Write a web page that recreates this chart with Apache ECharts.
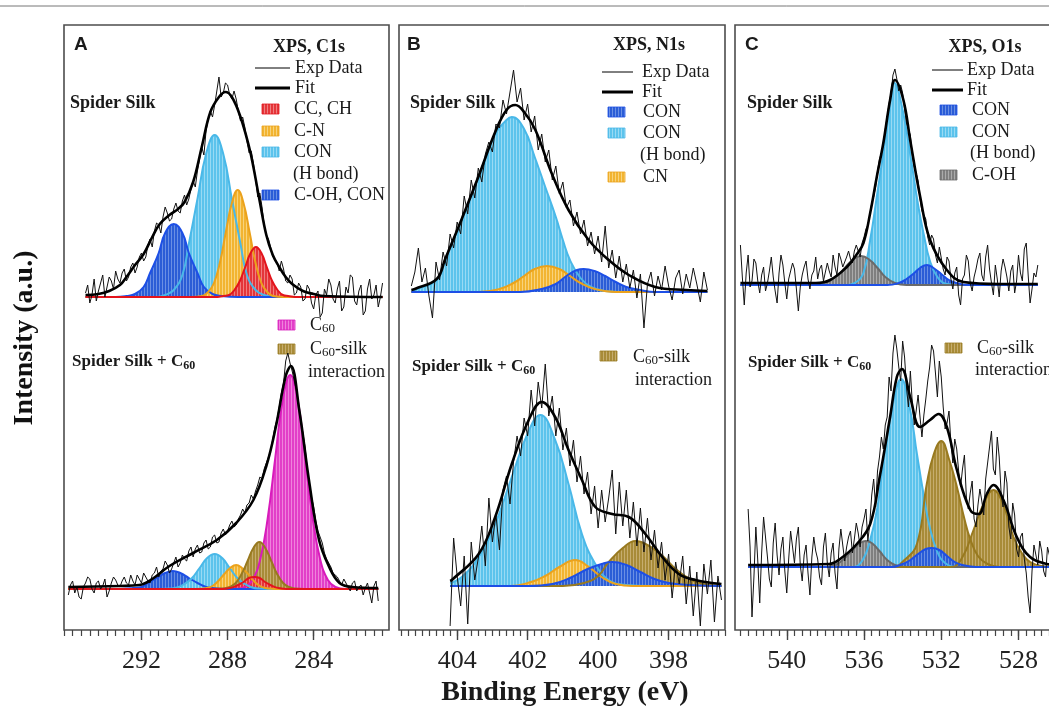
<!DOCTYPE html>
<html>
<head>
<meta charset="utf-8">
<script src="https://cdn.jsdelivr.net/npm/echarts@6.0.0/dist/echarts.min.js"></script>
<style>
  html, body { margin: 0; padding: 0; background: #fff; }
  #chart { width: 1049px; height: 706px; }
</style>
</head>
<body>
<div id="chart"></div>
<script>
// ---------- tick labels ----------
const c1sMajorTicks = [292, 288, 284]
const n1sMajorTicks = [404, 402, 400, 398]
const o1sMajorTicks = [540, 536, 532, 528]

// ---------- A: C1s, spider silk ----------
// exp data: evenly spaced readings from start to end energy
const c1sSilkExpRange = [294.6, 280.8]
const c1sSilkExp = [
  4, 12, -6, 2, 18, -4, 6, 14, 22, 0, 10, 20, 16, 8, 26, 18, 14, 24, 28, 16,
  20, 30, 34, 24, 30, 40, 44, 36, 40, 52, 58, 50, 66, 74, 72, 64, 80, 90, 84, 76,
  78, 88, 94, 86, 84, 96, 102, 92, 98, 108, 116, 110, 126, 138, 150, 142, 166, 178, 186, 180,
  192, 206, 220, 200, 204, 214, 212, 202, 198, 206, 198, 186, 176, 180, 170, 156, 144, 146, 134, 118,
  100, 104, 90, 72, 62, 58, 50, 40, 38, 34, 26, 36, 28, 16, 14, 22, 18, 2, 4, 14,
  10, -4, -2, 12, 8, -6, -12, 2, 6, -20, -16, 8, 2, 18, 12, -2, -6, 8, 16, -14,
  -10, 10, 4, 22, 20, -4, -8, 6, 12, -18, -14, 8, 18, -2, 2, 12, -10, 0, 14,
]
const c1sSilkFit = [[294.6, 2], [294, 3], [293.5, 6], [293, 12], [292.7, 20], [292.3, 32], [291.9, 43], [291.5, 60], [291.15, 73], [290.7, 82], [290.3, 88], [290, 95], [289.6, 115], [289.2, 150], [288.8, 185], [288.4, 200], [288.1, 205], [287.8, 200], [287.4, 180], [287, 150], [286.8, 130], [286.5, 95], [286.2, 62], [285.9, 42], [285.6, 30], [285.3, 20], [285, 13], [284.5, 6], [284, 3], [283.5, 1], [280.8, 0]]
const c1sSilkCON_H = [[294.6, 0], [291.3, 0], [290.9, 2], [290.5, 7], [290.1, 22], [289.8, 53], [289.4, 98], [289, 143], [288.6, 162], [288.2, 143], [287.8, 98], [287.4, 53], [287.1, 22], [286.7, 7], [286.3, 2], [285.8, 0], [280.8, 0]]
const c1sSilkCOH = [[294.6, 0], [293.2, 0], [292.7, 1], [292.3, 3], [291.9, 10], [291.6, 24], [291.2, 44], [290.9, 64], [290.5, 73], [290.1, 64], [289.8, 44], [289.4, 24], [289.1, 10], [288.7, 3], [288.3, 1], [287.5, 0], [280.8, 0]]
const c1sSilkCN = [[294.6, 0], [289.7, 0], [289.18, 1], [288.9, 5], [288.63, 14], [288.35, 35], [288.08, 65], [287.8, 94], [287.53, 107], [287.26, 94], [286.98, 65], [286.71, 35], [286.43, 14], [286.16, 5], [285.88, 1], [285.4, 0], [280.8, 0]]
const c1sSilkCC = [[294.6, 0], [288.6, 0], [288.18, 1], [287.93, 2], [287.68, 7], [287.43, 16], [287.18, 30], [286.93, 44], [286.68, 50], [286.43, 44], [286.18, 30], [285.93, 16], [285.68, 7], [285.43, 2], [285.18, 1], [284.7, 0], [280.8, 0]]

// ---------- A: C1s, spider silk + C60 ----------
const c1sC60ExpRange = [295.4, 281.0]
const c1sC60Exp = [
  -6, 4, 8, -4, 2, -8, -10, 2, 6, 12, 10, 0, -4, 6, 8, 0, 3, 10, -8, -2,
  6, 12, 9, 4, 2, 8, 12, 6, 4, 14, 8, 4, 14, 10, 6, 16, 12, 8, 6, 14,
  16, 22, 12, 18, 20, 28, 24, 16, 20, 26, 32, 22, 26, 34, 30, 28, 38, 42, 32, 40,
  44, 36, 37, 46, 49, 40, 42, 52, 54, 46, 47, 56, 60, 54, 58, 64, 68, 62, 64, 70,
  74, 80, 76, 84, 86, 94, 90, 98, 104, 112, 110, 120, 126, 132, 138, 150, 162, 170, 182, 196,
  206, 228, 236, 226, 218, 208, 198, 184, 168, 156, 142, 120, 104, 92, 82, 68, 58, 52, 46, 36,
  30, 26, 22, 16, 14, 12, 8, 4, 10, 6, 2, -2, 6, 8, -2, 2, 4, -6, 1, 6,
  -4, -14, 3, 8, -12,
]
const c1sC60Fit = [[295.4, 2], [293, 3], [292.1, 4], [291.5, 10], [290.7, 23], [289.6, 36], [288.5, 49], [287.6, 66], [286.8, 89], [286.2, 123], [285.75, 163], [285.3, 213], [285.06, 223], [284.67, 179], [284.2, 106], [283.75, 49], [283.3, 23], [282.8, 6], [282.2, 2], [281, 1]]
const c1sC60Peak = [[295.4, 0], [287.7, 0], [287.19, 2], [286.84, 9], [286.49, 29], [286.14, 70], [285.79, 130], [285.44, 189], [285.09, 214], [284.74, 189], [284.39, 130], [284.04, 70], [283.69, 29], [283.34, 9], [282.99, 2], [282.5, 0], [281, 0]]
const c1sC60COH = [[295.4, 0], [293.3, 0], [292.8, 0.2], [292.4, 1], [292, 2], [291.7, 6], [291.3, 11], [290.9, 16], [290.54, 18], [290.2, 16], [289.8, 11], [289.4, 6], [289, 2], [288.7, 1], [288.3, 0.2], [287.8, 0], [281, 0]]
const c1sC60CON_H = [[295.4, 0], [291.1, 0], [290.7, 0.4], [290.35, 1.5], [290, 5], [289.65, 11], [289.3, 21], [288.95, 31], [288.6, 35], [288.25, 31], [287.9, 21], [287.55, 11], [287.2, 5], [286.85, 1.5], [286.5, 0.4], [286, 0], [281, 0]]
const c1sC60CN = [[295.4, 0], [289.7, 0], [289.25, 0.3], [288.98, 1], [288.7, 3], [288.43, 8], [288.15, 15], [287.88, 21], [287.6, 24], [287.33, 21], [287.05, 15], [286.78, 8], [286.5, 3], [286.23, 1], [285.95, 0.3], [285.5, 0], [281, 0]]
const c1sC60Silk = [[295.4, 0], [288.6, 0], [288.17, 0.5], [287.9, 2], [287.62, 6], [287.35, 15], [287.07, 28], [286.8, 41], [286.52, 47], [286.25, 41], [285.97, 28], [285.7, 15], [285.42, 6], [285.15, 2], [284.87, 0.5], [284.4, 0], [281, 0]]
const c1sC60CC = [[295.4, 0], [288.7, 0], [288.26, 0.1], [288.01, 0.5], [287.76, 1.6], [287.51, 4], [287.26, 7], [287.01, 11], [286.76, 12], [286.51, 11], [286.26, 7], [286.01, 4], [285.76, 1.6], [285.51, 0.5], [285.26, 0.1], [284.8, 0], [281, 0]]

// ---------- B: N1s, spider silk ----------
const n1sSilkExpRange = [405.3, 396.9]
const n1sSilkExp = [
  6, 20, 44, 10, 24, -4, -26,
  30, 12, 40, 26, 58, 44, 70, 58, 96, 78,
  112, 94, 124, 110, 138, 150, 140, 168, 164, 192,
  178, 200, 222, 190, 204, 172, 188, 160, 176, 142,
  158, 130, 142, 112, 126, 98, 110, 84, 92, 66,
  80, 58, 72, 46, 60, 38, 56, 30, 66, 24,
  42, 14, 36, 10, 28, 4, 22, -6, 18, -36,
  8, 20, -4, 16, 2, 26, 6, -8, 14, 22,
  -2, 18, 4, 24, 8, -10, 20, 2,
]
const n1sSilkFit = [[405.3, 2], [405.2, 3], [404.58, 13], [404.34, 33], [403.87, 73], [403.39, 116], [402.92, 160], [402.6, 182], [402.35, 187], [402.1, 180], [401.78, 162], [401.31, 118], [400.84, 82], [400.27, 52], [399.7, 32], [399.13, 17], [398.38, 5], [397.5, 2], [396.9, 1]]
const n1sSilkCON_H = [[405.3, 0], [405.2, 2], [404.58, 12], [404.34, 32], [403.87, 72], [403.39, 115], [402.92, 158], [402.6, 172], [402.45, 175], [402.1, 163], [401.8, 135], [401.5, 105], [401.2, 75], [401, 52], [400.8, 32], [400.5, 14], [400.2, 5], [399.8, 1], [399.3, 0], [396.9, 0]]
const n1sSilkCN = [[405.3, 0], [403.4, 0], [402.8, 3], [402.4, 9], [402.1, 16], [401.8, 23], [401.45, 26], [401.1, 23], [400.8, 16], [400.5, 9], [400.1, 3], [399.5, 0], [396.9, 0]]
const n1sSilkCON = [[405.3, 0], [402.2, 0], [401.6, 3], [401.2, 8], [400.9, 16], [400.6, 22], [400.41, 23], [400.1, 21], [399.8, 16], [399.5, 10], [399.2, 5], [398.8, 2], [398.4, 0], [396.9, 0]]

// ---------- B: N1s, spider silk + C60 ----------
const n1sC60ExpRange = [404.2, 396.5]
const n1sC60Exp = [
  -40, 48, 10, -20, 30, -38, 44, 6, 28, 60,
  20, 88, 44, 72, 36, 96, 110, 82, 124, 150,
  130, 168, 150, 196, 160, 204, 178, 222, 170, 190,
  150, 178, 136, 158, 120, 146, 104, 130, 92, 114,
  72, 100, 58, 96, 64, 88, 116, 52, 104, 60,
  96, 48, 84, 40, 78, 34, 68, 26, 56, 18,
  44, 6, 32, -12, 24, 2, 30, -18, 20, -30,
  14, -40, 22, -8, 26, -36, 10, -14,
]
const n1sC60Fit = [[404.2, 5], [404.15, 6], [403.39, 32], [402.92, 69], [402.45, 122], [401.97, 166], [401.6, 184], [401.22, 169], [400.84, 136], [400.46, 106], [400.08, 79], [399.6, 72], [399.13, 69], [398.66, 52], [398.18, 29], [397.71, 12], [397.24, 6], [396.5, 2]]
const n1sC60CON_H = [[404.2, 3], [403.87, 9], [403.39, 29], [402.92, 62], [402.45, 109], [401.97, 155], [401.64, 171], [401.22, 146], [400.84, 102], [400.46, 52], [400.08, 22], [399.7, 6], [399.2, 1], [398.5, 0], [396.5, 0]]
const n1sC60CN = [[404.2, 0], [402.5, 0], [401.9, 4], [401.5, 10], [401.1, 19], [400.65, 26], [400.3, 20], [399.9, 9], [399.5, 2], [399, 0], [396.5, 0]]
const n1sC60Silk = [[404.2, 0], [401, 0], [400.4, 3], [400, 10], [399.7, 24], [399.3, 38], [398.94, 45], [398.6, 41], [398.2, 31], [397.8, 17], [397.4, 7], [397, 2], [396.5, 0]]
const n1sC60CON = [[404.2, 0], [402, 0], [401.3, 2], [400.8, 8], [400.3, 17], [399.9, 22], [399.6, 24], [399.2, 21], [398.8, 14], [398.4, 7], [398, 3], [397.4, 1], [396.5, 0]]

// ---------- C: O1s, spider silk ----------
const o1sSilkExpRange = [542.4, 527.0]
const o1sSilkExp = [
  40, 8, -20, 12, 30, -2, 4, 26, 22, 4, -8, 10, 18, -6, 2, 14, 28, 8, -6, -18,
  12, 30, 20, 2, -14, 6, 8, 22, 16, -4, -26, -2, 10, 18, 24, 6, -4, 10, 14, 28,
  6, 16, 20, 4, 2, 22, 14, 8, 30, 18, 10, 32, 26, 18, 16, 28, 34, 26, 22, 34,
  40, 34, 28, 42, 48, 56, 60, 70, 82, 88, 98, 114, 126, 132, 140, 156, 168, 182, 192, 210,
  216, 206, 194, 200, 192, 176, 162, 164, 150, 130, 118, 112, 104, 86, 74, 72, 66, 48, 40, 50,
  46, 30, 22, 38, 36, 16, 10, 28, 24, 6, -4, 12, 18, -10, -20, 6, 10, 30, 24, 2,
  -6, 8, 16, 26, 32, 10, 4, 28, 40, 16, 2, -10, 20, 6, -12, 14, 26, 18, 8, -6,
  14, 20, -8, 4, 30, 12, 4, 36, 42, 10, -18, -4, 12, 8, 20,
]
const o1sSilkFit = [[542.4, 2], [538.5, 2], [537.76, 5], [536.89, 18], [536.4, 30], [536.03, 42], [535.68, 72], [535.34, 108], [535, 142], [534.65, 185], [534.4, 205], [533.96, 185], [533.61, 145], [533.09, 88], [532.58, 45], [531.71, 15], [530.85, 3], [529, 1], [527, 1]]
const o1sSilkCON_H = [[542.4, 0], [537, 0], [536.4, 3], [536.03, 12], [535.68, 45], [535.34, 88], [535, 132], [534.65, 180], [534.42, 202], [534, 175], [533.6, 130], [533.2, 80], [532.9, 50], [532.6, 25], [532.2, 8], [531.7, 1], [531, 0], [527, 0]]
const o1sSilkCOH = [[542.4, 0], [538.6, 0], [537.9, 3], [537.4, 9], [537, 17], [536.6, 25], [536.15, 29], [535.7, 25], [535.3, 17], [534.9, 8], [534.4, 2], [533.8, 0], [527, 0]]
const o1sSilkCON = [[542.4, 0], [534.8, 0], [534.2, 2], [533.8, 6], [533.4, 12], [533.1, 17], [532.75, 20], [532.4, 17], [532, 11], [531.6, 5], [531.2, 2], [530.6, 0], [527, 0]]

// ---------- C: O1s, spider silk + C60 ----------
const o1sC60ExpRange = [542.0, 526.0]
const o1sC60Exp = [
  58, 20, -50, -10, 40, 6, -36, 14, 50, 30, 10, -12, -20, 24, 44, 12, -8, 18, 30, -4,
  -26, 8, 36, 20, 4, 28, 40, 2, -14, 12, 22, -6, -28, 10, 30, 16, 8, -10, -18, 20,
  34, 4, -10, 14, 24, -6, -22, 18, 38, 22, 6, 20, 30, 36, 14, 28, 44, 34, 20, 40,
  48, 58, 26, 44, 72, 88, 60, 96, 110, 130, 118, 142, 150, 190, 176, 214, 232, 218, 200, 186,
  226, 210, 180, 160, 196, 164, 142, 156, 172, 150, 130, 152, 168, 186, 200, 222, 216, 194, 170, 206,
  190, 160, 138, 144, 156, 124, 104, 128, 118, 96, 80, 98, 112, 70, 58, 74, 86, 48, 40, 62,
  78, 66, 52, 88, 104, 120, 136, 98, 92, 130, 110, 74, 60, 96, 84, 40, 28, 64, 52, 18,
  10, 30, 34, 8, -6, -30, -46, -4, 22, 12, 2, 26, 16, -4, -10, 20, 12, -8, 4, 14,
  8,
]
const o1sC60Fit = [[542, 2], [537.8, 3], [537.24, 8], [536.37, 23], [535.68, 43], [535.17, 92], [534.65, 150], [534.3, 190], [534.04, 198], [533.61, 170], [533.09, 140], [532.58, 147], [532.14, 153], [531.71, 140], [531.19, 97], [530.5, 57], [530.07, 53], [529.64, 73], [529.3, 82], [528.78, 67], [528.09, 30], [527.4, 10], [526.53, 3], [526, 2]]
const o1sC60CON_H = [[542, 0], [536.6, 0], [536.1, 6], [535.68, 27], [535.3, 60], [535, 105], [534.48, 165], [534.08, 188], [533.61, 157], [533.26, 113], [532.92, 73], [532.6, 40], [532.2, 15], [531.8, 4], [531.2, 0], [526, 0]]
const o1sC60COH = [[542, 0], [538, 0], [537.4, 3], [537, 9], [536.6, 17], [536.2, 24], [535.91, 26], [535.6, 24], [535.2, 16], [534.8, 7], [534.4, 2], [533.8, 0], [526, 0]]
const o1sC60Silk1 = [[542, 0], [534.5, 0], [533.96, 6], [533.26, 23], [532.75, 83], [532.4, 112], [532, 126], [531.6, 108], [531.19, 80], [530.8, 48], [530.5, 28], [530.1, 11], [529.6, 3], [529, 0], [526, 0]]
const o1sC60Silk2 = [[542, 0], [531.5, 0], [530.9, 10], [530.33, 37], [529.81, 63], [529.3, 77], [528.8, 63], [528.26, 30], [527.8, 13], [527.4, 5], [526.8, 1], [526, 0]]
const o1sC60CON = [[542, 0], [534.6, 0], [534, 3], [533.6, 7], [533.2, 13], [532.8, 18], [532.49, 19], [532.1, 17], [531.7, 11], [531.3, 5], [530.9, 2], [530.2, 0], [526, 0]]

// ---------- styles ----------
const SERIF = "'Liberation Serif', 'Times New Roman', serif"
const SANS = "'Liberation Sans', Arial, sans-serif"

function hatch(base, light) {
  const c = document.createElement('canvas')
  c.width = 3
  c.height = 6
  const ctx = c.getContext('2d')
  ctx.fillStyle = base
  ctx.fillRect(0, 0, 3, 6)
  ctx.fillStyle = light
  ctx.fillRect(0, 0, 1, 6)
  return { image: c, repeat: 'repeat' }
}

const COLORS = {
  red: { fill: hatch('#e4363a', '#f07d7f'), line: '#e3141c' },
  orange: { fill: hatch('#f2b431', '#f8d37c'), line: '#eba21c' },
  lightBlue: { fill: hatch('#5cc3ec', '#98daf4'), line: '#49b8e8' },
  blue: { fill: hatch('#2b5dd6', '#6a8fe4'), line: '#1d4fe6' },
  magenta: { fill: hatch('#e23fc8', '#ef83dc'), line: '#d81bbb' },
  olive: { fill: hatch('#a88b38', '#c6ad6e'), line: '#98791f' },
  gray: { fill: hatch('#7f7f7f', '#ababab'), line: '#6a6a6a' },
}

const FRAME_TOP = 25
const FRAME_BOTTOM = 630

const panels = [
  {
    min: 280.5, max: 295.6, left: 64, width: 325, major: c1sMajorTicks, minorStep: 0.4,
    topBase: 297, botBase: 589,
    top: { range: c1sSilkExpRange, exp: c1sSilkExp, fit: c1sSilkFit,
      comps: [[c1sSilkCON_H, 'lightBlue'], [c1sSilkCOH, 'blue'], [c1sSilkCN, 'orange'], [c1sSilkCC, 'red']] },
    bottom: { range: c1sC60ExpRange, exp: c1sC60Exp, fit: c1sC60Fit,
      comps: [[c1sC60Peak, 'magenta'], [c1sC60COH, 'blue'], [c1sC60CON_H, 'lightBlue'], [c1sC60CN, 'orange'], [c1sC60Silk, 'olive'], [c1sC60CC, 'red']] },
  },
  {
    min: 396.4, max: 405.65, left: 399, width: 326, major: n1sMajorTicks, minorStep: 0.2,
    topBase: 292, botBase: 586,
    top: { range: n1sSilkExpRange, exp: n1sSilkExp, fit: n1sSilkFit,
      comps: [[n1sSilkCON_H, 'lightBlue'], [n1sSilkCN, 'orange'], [n1sSilkCON, 'blue']] },
    bottom: { range: n1sC60ExpRange, exp: n1sC60Exp, fit: n1sC60Fit,
      comps: [[n1sC60CON_H, 'lightBlue'], [n1sC60CN, 'orange'], [n1sC60Silk, 'olive'], [n1sC60CON, 'blue']] },
  },
  {
    min: 525.8, max: 542.68, left: 735, width: 326, major: o1sMajorTicks, minorStep: 0.4,
    topBase: 285, botBase: 567,
    top: { range: o1sSilkExpRange, exp: o1sSilkExp, fit: o1sSilkFit,
      comps: [[o1sSilkCON_H, 'lightBlue'], [o1sSilkCOH, 'gray'], [o1sSilkCON, 'blue']] },
    bottom: { range: o1sC60ExpRange, exp: o1sC60Exp, fit: o1sC60Fit,
      comps: [[o1sC60CON_H, 'lightBlue'], [o1sC60COH, 'gray'], [o1sC60Silk1, 'olive'], [o1sC60Silk2, 'olive'], [o1sC60CON, 'blue']] },
  },
]

const option = { animation: false, grid: [], xAxis: [], yAxis: [], series: [], graphic: [] }

function addSpectrum(p, spec, gridBox) {
  const gi = option.grid.length
  option.grid.push(Object.assign({ left: p.left, width: p.width, outerBoundsMode: 'none' }, gridBox.pos))
  const xi = option.xAxis.length
  option.xAxis.push({ gridIndex: gi, type: 'value', min: p.min, max: p.max, inverse: true, show: false })
  const yi = option.yAxis.length
  option.yAxis.push({ gridIndex: gi, type: 'value', min: gridBox.ymin, max: gridBox.ymax, show: false })

  spec.comps.forEach(([data, key]) => {
    option.series.push({
      type: 'line', xAxisIndex: xi, yAxisIndex: yi, data,
      smooth: 0.45, symbol: 'none', silent: true, clip: false,
      lineStyle: { color: COLORS[key].line, width: 2 },
      areaStyle: { color: COLORS[key].fill, opacity: 1 },
    })
  })
  const [e0, e1] = spec.range
  const n = spec.exp.length
  option.series.push({
    type: 'line', xAxisIndex: xi, yAxisIndex: yi,
    data: spec.exp.map((v, k) => [e0 + (e1 - e0) * k / (n - 1), v]),
    symbol: 'none', silent: true, clip: false,
    lineStyle: { color: '#111', width: 1 },
  })
  option.series.push({
    type: 'line', xAxisIndex: xi, yAxisIndex: yi, data: spec.fit,
    smooth: 0.4, symbol: 'none', silent: true, clip: false,
    lineStyle: { color: '#000', width: 2.6 },
  })
}

panels.forEach((p) => {
  const gi = option.grid.length
  option.grid.push({
    left: p.left, top: FRAME_TOP, width: p.width, height: FRAME_BOTTOM - FRAME_TOP,
    show: true, borderColor: '#4d4d4d', borderWidth: 1.6, backgroundColor: 'transparent',
    outerBoundsMode: 'none',
  })
  const minor = []
  for (let v = Math.ceil(p.min / p.minorStep - 1e-6) * p.minorStep; v <= p.max + 1e-6; v += p.minorStep) {
    minor.push(Math.round(v * 100) / 100)
  }
  const base = { gridIndex: gi, type: 'value', min: p.min, max: p.max, inverse: true, position: 'bottom',
    axisLine: { show: false }, splitLine: { show: false } }
  option.xAxis.push(Object.assign({}, base, {
    axisTick: { show: true, customValues: minor, length: 6, lineStyle: { color: '#444', width: 1.2 } },
    axisLabel: { show: false },
  }))
  option.xAxis.push(Object.assign({}, base, {
    axisTick: { show: true, customValues: p.major, length: 10, lineStyle: { color: '#444', width: 1.4 } },
    axisLabel: { show: true, customValues: p.major, margin: 18, fontSize: 26, fontFamily: SERIF, color: '#222' },
  }))
  option.yAxis.push({ gridIndex: gi, type: 'value', show: false })

  addSpectrum(p, p.top, {
    pos: { top: FRAME_TOP, height: p.topBase + 45 - FRAME_TOP },
    ymin: -45, ymax: p.topBase - FRAME_TOP,
  })
  addSpectrum(p, p.bottom, {
    pos: { top: 300, height: FRAME_BOTTOM - 300 },
    ymin: -(FRAME_BOTTOM - p.botBase), ymax: p.botBase - 300,
  })
})

// ---------- annotation graphics ----------
const G = option.graphic
function txt(x, y, text, font, align) {
  G.push({ type: 'text', x, y, silent: true,
    style: { text, font, fill: '#1a1a1a', align: align || 'left', verticalAlign: 'middle' } })
}
function rich(x, y, parts, bold, size) {
  const w = bold ? 'bold' : 'normal'
  G.push({ type: 'text', x, y, silent: true,
    style: {
      text: parts, fill: '#1a1a1a', align: 'left', verticalAlign: 'middle',
      rich: {
        a: { fontFamily: SERIF, fontSize: size, fontWeight: w, lineHeight: 20, fill: '#1a1a1a' },
        s: { fontFamily: SERIF, fontSize: size - 5, fontWeight: w, lineHeight: 11, verticalAlign: 'bottom', fill: '#1a1a1a' },
      },
    } })
}
function swatch(x, yc, key, w) {
  G.push({ type: 'rect', silent: true, shape: { x, y: yc - 5, width: w || 17, height: 10 },
    style: { fill: COLORS[key].fill, stroke: COLORS[key].line, lineWidth: 0.8 } })
}
function legLine(x1, x2, y, width) {
  G.push({ type: 'line', silent: true, shape: { x1, y1: y, x2, y2: y }, style: { stroke: '#000', lineWidth: width } })
}

const F18 = '18px ' + SERIF
const B18 = 'bold 18px ' + SERIF
const LETTER = 'bold 19px ' + SANS

G.push({ type: 'line', silent: true, shape: { x1: 0, y1: 6, x2: 1049, y2: 6 }, style: { stroke: '#777', lineWidth: 1 } })

// A
txt(74, 45, 'A', LETTER)
txt(309, 47, 'XPS, C1s', B18, 'center')
legLine(255, 290, 68, 1); txt(295, 68, 'Exp Data', F18)
legLine(255, 290, 88, 3); txt(295, 88, 'Fit', F18)
swatch(262, 109, 'red'); txt(294, 109, 'CC, CH', F18)
swatch(262, 131, 'orange'); txt(294, 131, 'C-N', F18)
swatch(262, 152, 'lightBlue'); txt(294, 152, 'CON', F18)
txt(293, 174, '(H bond)', F18)
swatch(262, 195, 'blue'); txt(294, 195, 'C-OH, CON', F18)
txt(70, 103, 'Spider Silk', B18)
swatch(278, 325, 'magenta'); rich(310, 325, '{a|C}{s|60}', false, 18)
swatch(278, 349, 'olive'); rich(310, 349, '{a|C}{s|60}{a|-silk}', false, 18)
txt(308, 372, 'interaction', F18)
rich(72, 362, '{a|Spider Silk + C}{s|60}', true, 17)

// B
txt(407, 45, 'B', LETTER)
txt(649, 45, 'XPS, N1s', B18, 'center')
legLine(602, 633, 72, 1); txt(642, 72, 'Exp Data', F18)
legLine(602, 633, 92, 3); txt(642, 92, 'Fit', F18)
swatch(608, 112, 'blue'); txt(643, 112, 'CON', F18)
swatch(608, 133, 'lightBlue'); txt(643, 133, 'CON', F18)
txt(640, 155, '(H bond)', F18)
swatch(608, 177, 'orange'); txt(643, 177, 'CN', F18)
txt(410, 103, 'Spider Silk', B18)
swatch(600, 356, 'olive'); rich(633, 357, '{a|C}{s|60}{a|-silk}', false, 18)
txt(635, 380, 'interaction', F18)
rich(412, 367, '{a|Spider Silk + C}{s|60}', true, 17)

// C
txt(745, 45, 'C', LETTER)
txt(985, 47, 'XPS, O1s', B18, 'center')
legLine(932, 963, 70, 1); txt(967, 70, 'Exp Data', F18)
legLine(932, 963, 90, 3); txt(967, 90, 'Fit', F18)
swatch(940, 110, 'blue'); txt(972, 110, 'CON', F18)
swatch(940, 132, 'lightBlue'); txt(972, 132, 'CON', F18)
txt(970, 153, '(H bond)', F18)
swatch(940, 175, 'gray'); txt(972, 175, 'C-OH', F18)
txt(747, 103, 'Spider Silk', B18)
swatch(945, 348, 'olive'); rich(977, 348, '{a|C}{s|60}{a|-silk}', false, 18)
txt(975, 370, 'interaction', F18)
rich(748, 363, '{a|Spider Silk + C}{s|60}', true, 17)

// axis titles
G.push({ type: 'text', x: 25, y: 338, rotation: Math.PI / 2, silent: true,
  style: { text: 'Intensity (a.u.)', font: 'bold 28px ' + SERIF, fill: '#111', align: 'center', verticalAlign: 'middle' } })
txt(565, 693, 'Binding Energy (eV)', 'bold 28px ' + SERIF, 'center')

const chart = echarts.init(document.getElementById('chart'), null, { renderer: 'canvas' })
chart.setOption(option)
</script>
</body>
</html>
